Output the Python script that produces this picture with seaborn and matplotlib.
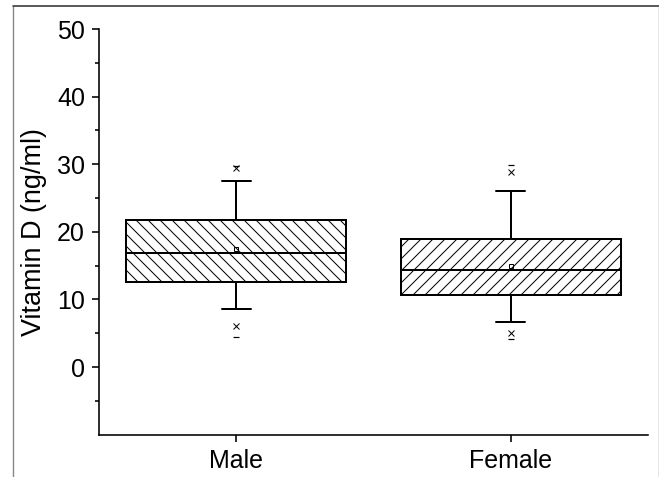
import matplotlib
matplotlib.use("Agg")
import matplotlib.pyplot as plt
import seaborn as sns
from matplotlib.lines import Line2D

# values (ng/ml)
groups = ["Male", "Female"]
q1 = [12.6, 10.6]
median = [16.9, 14.4]
q3 = [21.8, 18.9]
whisker_low = [8.55, 6.6]
whisker_high = [27.5, 26.1]
means = [17.4, 15.0]
pct_low = [6.1, 5.1]     # 1% (x markers)
pct_high = [29.4, 28.8]  # 99% (x markers)
minimum = [4.5, 4.1]
maximum = [29.8, 29.9]
hatches = ["\\\\\\\\", "////"]

DPI = 144
sns.set_style("ticks")
plt.rcParams["font.family"] = ["Liberation Sans", "DejaVu Sans"]
plt.rcParams["hatch.linewidth"] = 0.5

fig = plt.figure(figsize=(659 / DPI, 477 / DPI), dpi=DPI)
ax = fig.add_axes([0.1502, 0.0887, 0.8331, 0.8505])

stats = []
for i, g in enumerate(groups):
    stats.append({"label": g, "q1": q1[i], "med": median[i], "q3": q3[i],
                  "whislo": whisker_low[i], "whishi": whisker_high[i],
                  "mean": means[i], "fliers": []})

pos = list(range(len(groups)))
bp = ax.bxp(stats, positions=pos, widths=0.8, patch_artist=True,
            showfliers=False, showmeans=False, capwidths=0.107,
            boxprops=dict(facecolor="white", edgecolor="black", linewidth=1.0),
            medianprops=dict(color="black", linewidth=1.0),
            whiskerprops=dict(color="black", linewidth=1.0),
            capprops=dict(color="black", linewidth=1.0))
for box, h in zip(bp["boxes"], hatches):
    box.set_hatch(h)

ax.plot(pos, means, linestyle="none", marker="s", markersize=2.4,
        markerfacecolor="none", markeredgecolor="black", markeredgewidth=0.5)
ax.plot(pos, pct_low, linestyle="none", marker="x", markersize=3,
        color="black", markeredgewidth=0.5)
ax.plot(pos, pct_high, linestyle="none", marker="x", markersize=3,
        color="black", markeredgewidth=0.5)
ax.plot(pos, minimum, linestyle="none", marker="_", markersize=3,
        color="black", markeredgewidth=0.6)
ax.plot(pos, maximum, linestyle="none", marker="_", markersize=3,
        color="black", markeredgewidth=0.6)

ax.set_xlim(-0.5, 1.5)
ax.set_ylim(-10, 50)
ax.set_xticks(pos)
ax.set_xticklabels(groups, fontsize=12)
ax.set_yticks([0, 10, 20, 30, 40, 50])
ax.set_yticks([-5, 5, 15, 25, 35, 45], minor=True)
ax.tick_params(axis="both", which="major", direction="out", length=3.5,
               width=0.8, labelsize=12.5, color="black", labelcolor="black")
ax.tick_params(axis="y", which="minor", direction="out", length=2,
               width=0.8, color="black")
ax.set_ylabel("Vitamin D (ng/ml)", fontsize=13.5, labelpad=5, color="black")
sns.despine(ax=ax)
for s in ["left", "bottom"]:
    ax.spines[s].set_linewidth(0.8)
    ax.spines[s].set_color("black")

# thin frame left over from the screenshot
W, H = 659, 477
fig.add_artist(Line2D([13 / W, 13 / W], [0, 1 - 6 / H], transform=fig.transFigure,
                      color="#888888", linewidth=0.7))
fig.add_artist(Line2D([13 / W, 1], [1 - 6 / H, 1 - 6 / H], transform=fig.transFigure,
                      color="#333333", linewidth=0.8))
fig.add_artist(Line2D([658.5 / W, 658.5 / W], [0, 1 - 6 / H], transform=fig.transFigure,
                      color="#888888", linewidth=0.7))

fig.savefig("out.png", dpi=DPI)
